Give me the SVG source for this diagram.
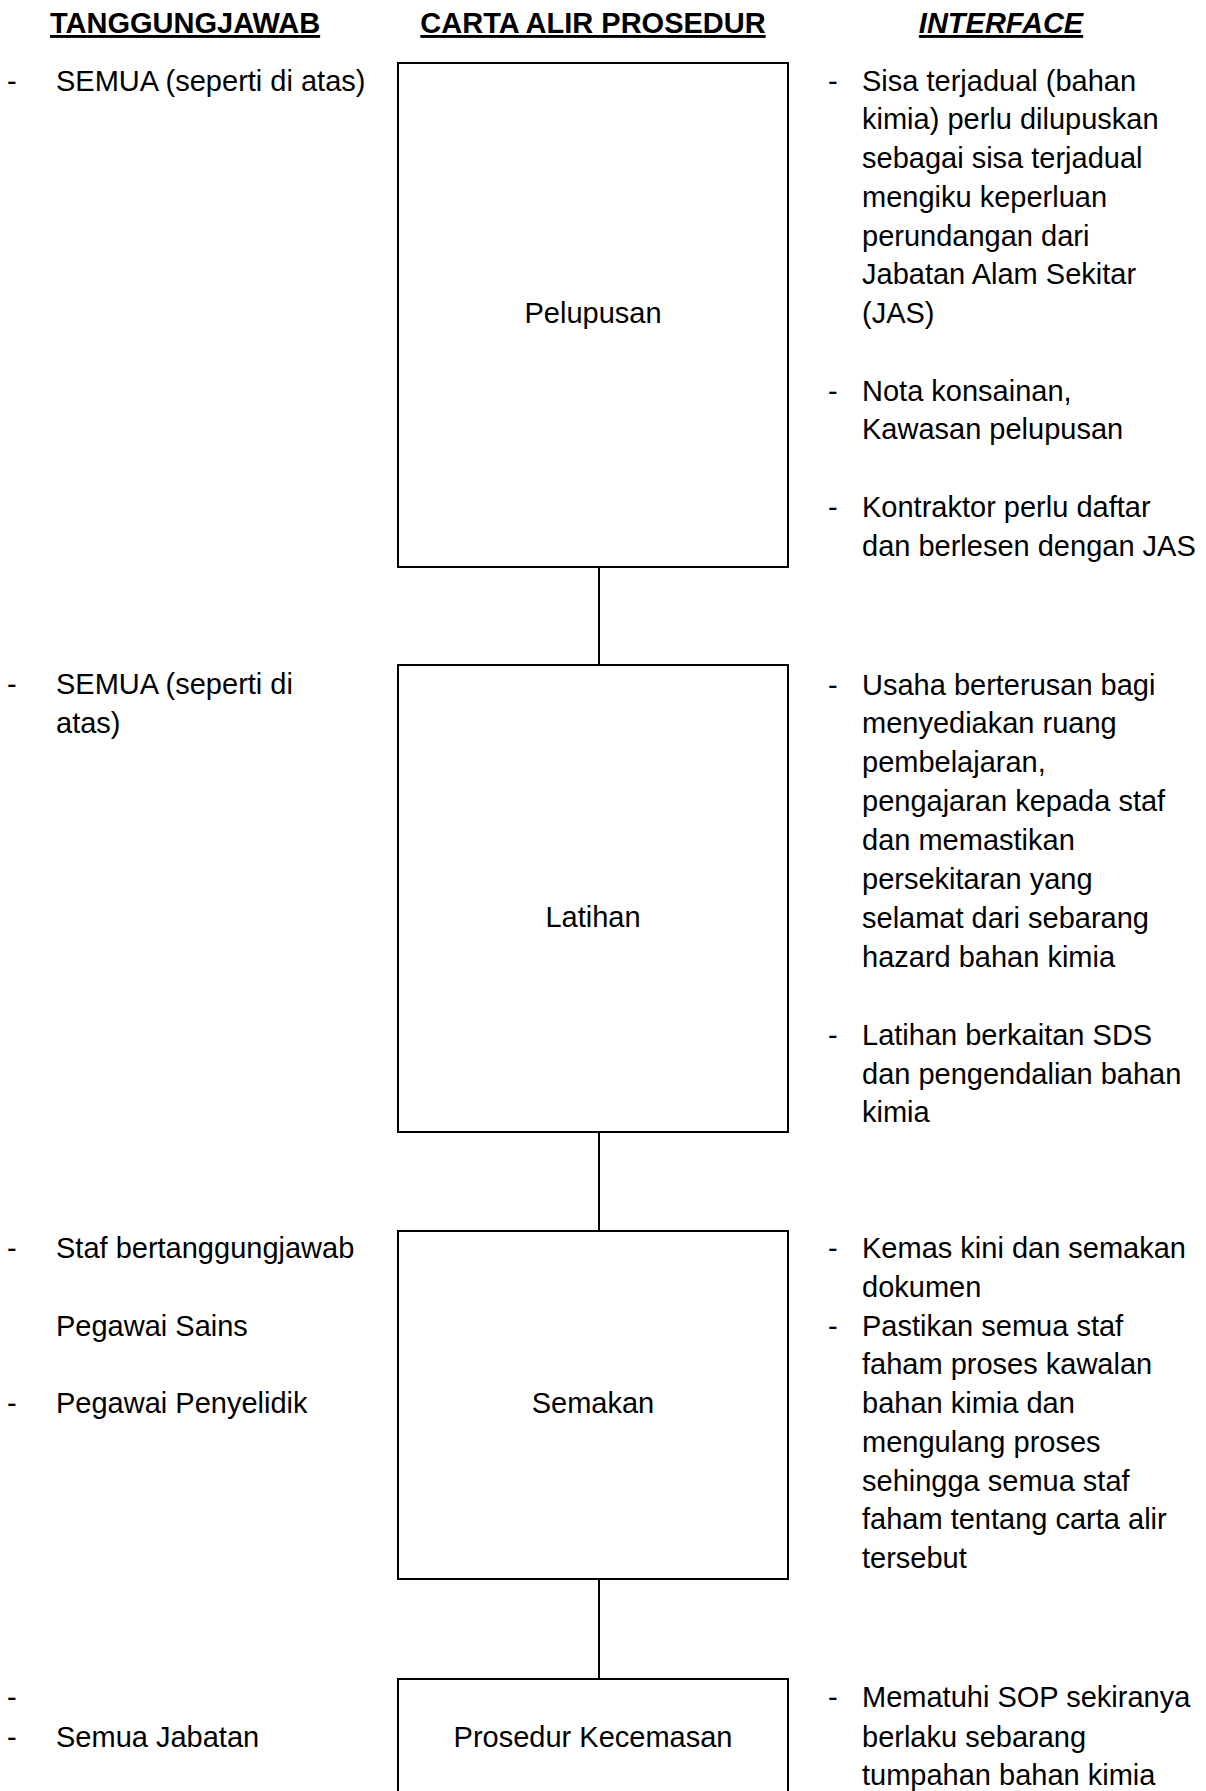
<svg xmlns="http://www.w3.org/2000/svg" width="1206" height="1791" viewBox="0 0 1206 1791">
<style>
text{font-family:"Liberation Sans",Arial,sans-serif;font-size:29px;fill:#000}
.hd{font-weight:bold;text-decoration:underline}
.it{font-style:italic}
.box{fill:#fff;stroke:#000;stroke-width:2}
.lbl{text-anchor:middle}
.conn line{stroke:#000;stroke-width:2}
</style>
<rect width="1206" height="1791" fill="#fff"/>
<g id="headers">
<text class="hd" x="50" y="33">TANGGUNGJAWAB</text>
<text class="hd" x="593" y="33" text-anchor="middle">CARTA ALIR PROSEDUR</text>
<text class="hd it" x="1001" y="33" text-anchor="middle">INTERFACE</text>
</g>
<g class="conn" id="connectors">
<line x1="599" y1="568" x2="599" y2="664"/>
<line x1="599" y1="1132" x2="599" y2="1230"/>
<line x1="599" y1="1580" x2="599" y2="1678"/>
</g>
<g id="node-pelupusan">
<rect class="box" x="398" y="63" width="390" height="504"/>
<text class="lbl" x="593" y="323">Pelupusan</text>
</g>
<g id="node-latihan">
<rect class="box" x="398" y="665" width="390" height="467"/>
<text class="lbl" x="593" y="926.5">Latihan</text>
</g>
<g id="node-semakan">
<rect class="box" x="398" y="1231" width="390" height="348"/>
<text class="lbl" x="593" y="1413">Semakan</text>
</g>
<g id="node-prosedur-kecemasan">
<rect class="box" x="398" y="1679" width="390" height="200"/>
<text class="lbl" x="593" y="1746.75">Prosedur Kecemasan</text>
</g>
<g id="resp-1">
<text x="7" y="90.5">-</text>
<text x="56" y="90.5">SEMUA (seperti di atas)</text>
</g>
<g id="iface-1">
<text x="828" y="90.5">-</text>
<text x="862" y="90.5">Sisa terjadual (bahan</text>
<text x="862" y="129.25">kimia) perlu dilupuskan</text>
<text x="862" y="168">sebagai sisa terjadual</text>
<text x="862" y="206.75">mengiku keperluan</text>
<text x="862" y="245.5">perundangan dari</text>
<text x="862" y="284.25">Jabatan Alam Sekitar</text>
<text x="862" y="323">(JAS)</text>
<text x="828" y="400.5">-</text>
<text x="862" y="400.5">Nota konsainan,</text>
<text x="862" y="439.25">Kawasan pelupusan</text>
<text x="828" y="516.75">-</text>
<text x="862" y="516.75">Kontraktor perlu daftar</text>
<text x="862" y="555.5">dan berlesen dengan JAS</text>
</g>
<g id="resp-2">
<text x="7" y="694">-</text>
<text x="56" y="694">SEMUA (seperti di</text>
<text x="56" y="732.75">atas)</text>
</g>
<g id="iface-2">
<text x="828" y="694.5">-</text>
<text x="862" y="694.5">Usaha berterusan bagi</text>
<text x="862" y="733.4">menyediakan ruang</text>
<text x="862" y="772.3">pembelajaran,</text>
<text x="862" y="811.2">pengajaran kepada staf</text>
<text x="862" y="850.1">dan memastikan</text>
<text x="862" y="889">persekitaran yang</text>
<text x="862" y="927.9">selamat dari sebarang</text>
<text x="862" y="966.8">hazard bahan kimia</text>
<text x="828" y="1044.6">-</text>
<text x="862" y="1044.6">Latihan berkaitan SDS</text>
<text x="862" y="1083.5">dan pengendalian bahan</text>
<text x="862" y="1122.4">kimia</text>
</g>
<g id="resp-3">
<text x="7" y="1258">-</text>
<text x="56" y="1258">Staf bertanggungjawab</text>
<text x="56" y="1335.5">Pegawai Sains</text>
<text x="7" y="1413">-</text>
<text x="56" y="1413">Pegawai Penyelidik</text>
</g>
<g id="iface-3">
<text x="828" y="1258">-</text>
<text x="862" y="1258">Kemas kini dan semakan</text>
<text x="862" y="1296.75">dokumen</text>
<text x="828" y="1335.5">-</text>
<text x="862" y="1335.5">Pastikan semua staf</text>
<text x="862" y="1374.25">faham proses kawalan</text>
<text x="862" y="1413">bahan kimia dan</text>
<text x="862" y="1451.75">mengulang proses</text>
<text x="862" y="1490.5">sehingga semua staf</text>
<text x="862" y="1529.25">faham tentang carta alir</text>
<text x="862" y="1568">tersebut</text>
</g>
<g id="resp-4">
<text x="7" y="1707">-</text>
<text x="7" y="1746.75">-</text>
<text x="56" y="1746.75">Semua Jabatan</text>
</g>
<g id="iface-4">
<text x="828" y="1707">-</text>
<text x="862" y="1707">Mematuhi SOP sekiranya</text>
<text x="862" y="1746.75">berlaku sebarang</text>
<text x="862" y="1785">tumpahan bahan kimia</text>
</g>
</svg>
